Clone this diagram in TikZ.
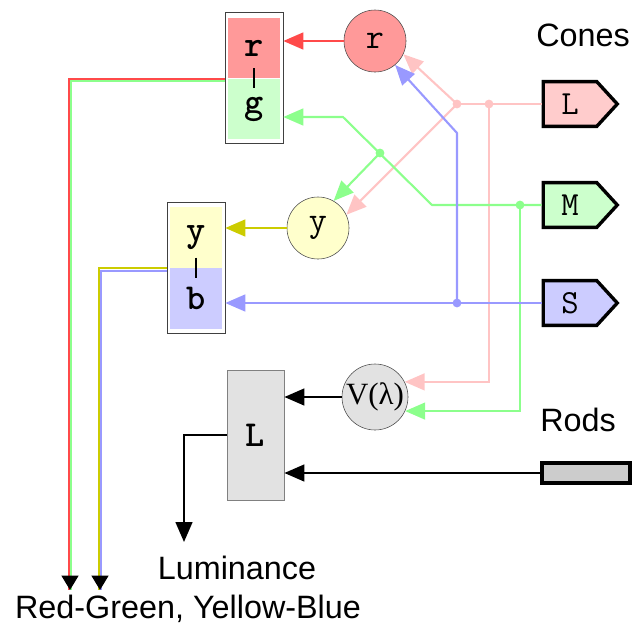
\documentclass[tikz,border=0pt]{standalone}
\usepackage{fontspec}
\setmainfont{Liberation Sans}
\newfontfamily\greekfont{Liberation Serif}
\usepackage{tikz}
\usetikzlibrary{positioning,arrows.meta,calc,shapes.symbols}
\definecolor{RedLine}{HTML}{FF4A4A}
\definecolor{RedFill}{HTML}{FF9999}
\definecolor{PinkLine}{HTML}{FFC4C4}
\definecolor{PinkFill}{HTML}{FFCCCC}
\definecolor{GreenLine}{HTML}{8CFF8C}
\definecolor{GreenFill}{HTML}{CCFFCC}
\definecolor{BlueLine}{HTML}{9999FF}
\definecolor{BlueFill}{HTML}{CCCCFF}
\definecolor{YellowLine}{HTML}{CCCC00}
\definecolor{YellowFill}{HTML}{FFFFCC}
\definecolor{GrayFill}{HTML}{E2E2E2}

\begin{document}
\begin{tikzpicture}[x=0.025cm,y=-0.025cm,
  every node/.style={inner sep=0pt},
  bigtext/.style={font=\fontsize{23}{27}\selectfont},
  pairbox/.style={draw=black!75,fill=white,minimum width=1.45cm,minimum height=3.27cm},
  half/.style={minimum width=1.28cm,minimum height=1.52cm,font=\ttfamily\bfseries\fontsize{26}{28}\selectfont},
  cell/.style={circle,draw=black!70,minimum size=1.55cm,font=\ttfamily\fontsize{25}{28}\selectfont},
  cone/.style={signal,signal to=east,signal pointer angle=95,draw=black,line width=2.4pt,minimum width=1.85cm,minimum height=1.12cm,font=\ttfamily\fontsize{24}{28}\selectfont},
  wire/.style={line width=1.5pt},
  tip/.style={-{Triangle[length=0.5cm,width=0.42cm]}},
  smalltip/.style={-{Triangle[length=0.36cm,width=0.42cm]}},
  dot/.style={circle,minimum size=0.22cm}
]
\useasboundingbox (0,0) rectangle (632,640);

% opponent boxes
\node[pairbox] (rgbox) at (254,78) {};
\node[half,fill=RedFill] (rhalf) at (254,48) {r};
\node[half,fill=GreenFill] (ghalf) at (254,109) {g};
\draw[line width=1.3pt] ([yshift=0.25cm]rgbox.center) -- ([yshift=-0.25cm]rgbox.center);
\node[pairbox] (ybbox) at (196,267.5) {};
\node[half,fill=YellowFill] (yhalf) at (196,237.5) {y};
\node[half,fill=BlueFill] (bhalf) at (196,298.5) {b};
\draw[line width=1.3pt] ([yshift=0.25cm]ybbox.center) -- ([yshift=-0.25cm]ybbox.center);
\node[draw=black!50,fill=GrayFill,minimum width=1.43cm,minimum height=3.25cm,font=\ttfamily\bfseries\fontsize{26}{28}\selectfont] (lbox) at (255.5,435) {L};

% cells
\node[cell,fill=RedFill] (rcirc) at (375,41) {r};
\node[cell,fill=YellowFill] (ycirc) at (318,228) {y};
\node[cell,fill=GrayFill,minimum size=1.65cm,font=\greekfont\fontsize{22}{26}\selectfont] (vcirc) at (375,397) {V(λ)};

% receptors
\node[cone,fill=PinkFill] (L) at (570,104) {L};
\node[cone,fill=GreenFill] (M) at (570,205) {M};
\node[cone,fill=BlueFill] (S) at (570,303) {S};
\node[draw=black,line width=2.2pt,fill=black!20,minimum width=2.2cm,minimum height=0.5cm] (rod) at (586,473) {};
\node[bigtext] (cones) at (583,35) {Cones};
\node[bigtext] (rods) at (578,420) {Rods};

% junctions
\node[dot,fill=PinkLine] (lj1) at (457,104) {};
\node[dot,fill=PinkLine] (lj2) at (489,104) {};
\node[dot,fill=GreenLine] (mj1) at (520,205) {};
\node[dot,fill=GreenLine] (mj2) at (380,153) {};
\node[dot,fill=BlueLine] (sj) at (457,303) {};
\coordinate (mknee) at (432,205);
\coordinate (gknee) at (343,117);
\coordinate (sknee) at (457,133);

% L cone
\draw[wire,PinkLine] (L.west) -- (lj1.center);
\draw[wire,PinkLine,tip] (lj1.center) -- (rcirc.-25);
\draw[wire,PinkLine,tip] (lj1.center) -- (ycirc.25);
\draw[wire,PinkLine,tip] (lj2.center) |- (vcirc.27);
% M cone
\draw[wire,GreenLine,tip] (M.west) -- (mknee) -- (gknee) -- (gknee -| rgbox.east);
\draw[wire,GreenLine,tip] (mj2.center) -- (ycirc.60);
\draw[wire,GreenLine,tip] (mj1.center) |- (vcirc.-25);
% S cone
\draw[wire,BlueLine,tip] (S.west) -- (S.west -| ybbox.east);
\draw[wire,BlueLine,tip] (sj.center) -- (sknee) -- (rcirc.-50);
% cells to boxes
\draw[wire,RedLine,tip] (rcirc) -- (rcirc -| rgbox.east);
\draw[wire,YellowLine,tip] (ycirc) -- (ycirc -| ybbox.east);
\draw[wire,black,tip] (vcirc) -- (vcirc -| lbox.east);
\draw[wire,black,tip] (rod) -- (rod -| lbox.east);

% outputs
\coordinate (rgout) at (70,590);
\coordinate (ybout) at (100,590);
\coordinate (lumout) at (184,542);
\draw[wire,RedLine] ([yshift=-0.6pt]rgbox.west) -| ([xshift=-0.8pt]rgout);
\draw[wire,GreenLine] ([yshift=-2.4pt]rgbox.west) -| ([xshift=1pt]rgout);
\draw[wire,YellowLine] ([yshift=-0.4pt]ybbox.west) -| ([xshift=-0.8pt]ybout);
\draw[wire,BlueLine] ([yshift=-2.2pt]ybbox.west) -| ([xshift=1pt]ybout);
\draw[wire,black,smalltip] ([yshift=0.36cm]rgout) -- (rgout);
\draw[wire,black,smalltip] ([yshift=0.36cm]ybout) -- (ybout);
\draw[wire,black,tip] (lbox.west) -| (lumout);
\node[bigtext] (lum) at (237,568) {Luminance};
\node[bigtext] (rgyb) at (188,609) {Red-Green, Yellow-Blue};
\end{tikzpicture}
\end{document}
